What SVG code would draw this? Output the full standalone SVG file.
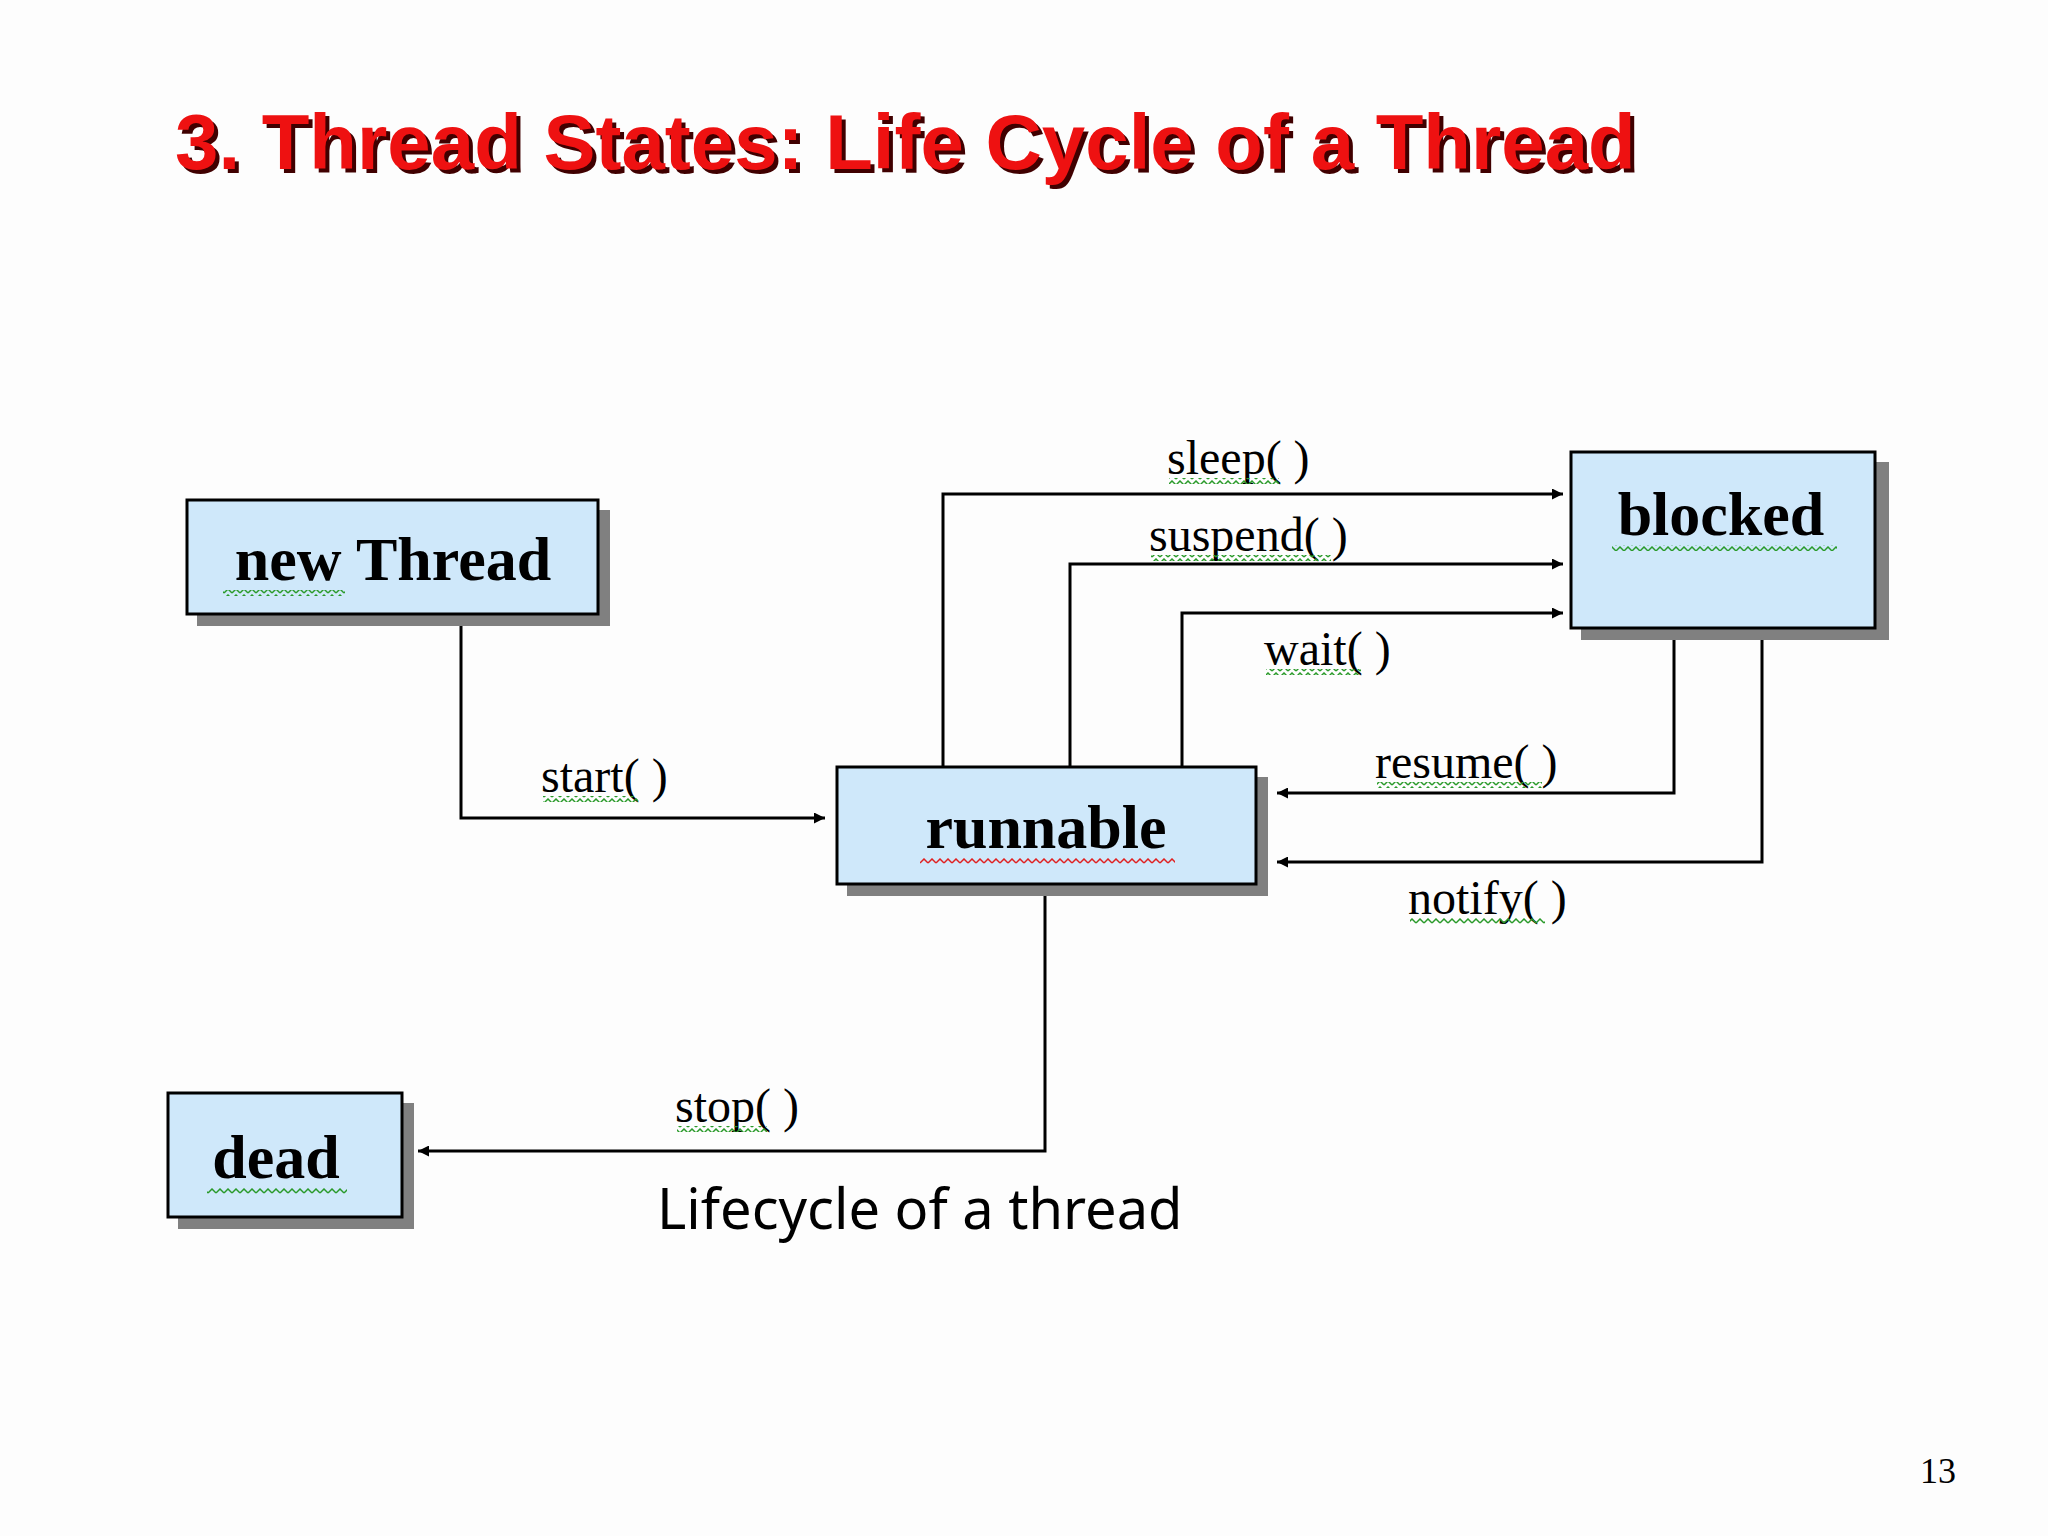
<svg xmlns="http://www.w3.org/2000/svg" width="2048" height="1536" viewBox="0 0 2048 1536">
<style>
.box{fill:#cfe8fa;stroke:#000;stroke-width:3}
.sh{fill:#808080}
.bt{font-family:"Liberation Serif",serif;font-weight:bold;font-size:62px;fill:#000;text-anchor:middle}
.lb{font-family:"Liberation Serif",serif;font-size:48px;fill:#000}
.ln{fill:none;stroke:#000;stroke-width:3}
</style>
<defs>
<marker id="ar" viewBox="0 0 10 10" refX="10" refY="5" markerWidth="11" markerHeight="11" markerUnits="userSpaceOnUse" orient="auto"><path d="M0,0L10,5L0,10z" fill="#000"/></marker>
<pattern id="wg" width="8" height="6" patternUnits="userSpaceOnUse"><path d="M0,5L4,1L8,5" fill="none" stroke="#2a9a2a" stroke-width="1.5"/></pattern>
<pattern id="wr" width="8" height="6" patternUnits="userSpaceOnUse"><path d="M0,5L4,1L8,5" fill="none" stroke="#e02020" stroke-width="1.5"/></pattern>
</defs>
<rect width="2048" height="1536" fill="#fdfdfd"/>
<text x="179" y="173" font-family="Liberation Sans,sans-serif" font-weight="bold" font-size="78" fill="#400000">3. Thread States: Life Cycle of a Thread</text>
<text x="175" y="169" font-family="Liberation Sans,sans-serif" font-weight="bold" font-size="78" fill="#ee1111">3. Thread States: Life Cycle of a Thread</text>

<g id="connectors">
<polyline class="ln" points="461,614 461,818 825,818" marker-end="url(#ar)"/>
<polyline class="ln" points="943,767 943,494 1563,494" marker-end="url(#ar)"/>
<polyline class="ln" points="1070,767 1070,564 1563,564" marker-end="url(#ar)"/>
<polyline class="ln" points="1182,767 1182,613 1563,613" marker-end="url(#ar)"/>
<polyline class="ln" points="1674,628 1674,793 1277,793" marker-end="url(#ar)"/>
<polyline class="ln" points="1762,628 1762,862 1277,862" marker-end="url(#ar)"/>
<polyline class="ln" points="1045,884 1045,1151 418,1151" marker-end="url(#ar)"/>
<text class="lb" x="1167" y="474">sleep( )</text>
<rect x="1169" y="478" width="110" height="6" fill="url(#wg)"/>
<text class="lb" x="1149" y="551">suspend( )</text>
<rect x="1151" y="555" width="180" height="6" fill="url(#wg)"/>
<text class="lb" x="1264" y="665">wait( )</text>
<rect x="1266" y="669" width="95" height="6" fill="url(#wg)"/>
<text class="lb" x="541" y="792">start( )</text>
<rect x="543" y="796" width="95" height="6" fill="url(#wg)"/>
<text class="lb" x="1375" y="778">resume( )</text>
<rect x="1377" y="782" width="165" height="6" fill="url(#wg)"/>
<text class="lb" x="1408" y="914">notify( )</text>
<rect x="1410" y="918" width="135" height="6" fill="url(#wg)"/>
<text class="lb" x="675" y="1122">stop( )</text>
<rect x="677" y="1126" width="90" height="6" fill="url(#wg)"/>
</g>

<g id="new">
<rect class="sh" x="197" y="510" width="413" height="116"/>
<rect class="box" x="187" y="500" width="411" height="114"/>
<text class="bt" x="393" y="580">new Thread</text>
<rect x="223" y="590" width="122" height="6" fill="url(#wg)"/>
</g>
<g id="blocked">
<rect class="sh" x="1581" y="462" width="308" height="178"/>
<rect class="box" x="1571" y="452" width="304" height="176"/>
<text class="bt" x="1721" y="535">blocked</text>
<rect x="1612" y="545" width="225" height="6" fill="url(#wg)"/>
</g>
<g id="runnable">
<rect class="sh" x="847" y="777" width="421" height="119"/>
<rect class="box" x="837" y="767" width="419" height="117"/>
<text class="bt" x="1046" y="848">runnable</text>
<rect x="920" y="858" width="255" height="6" fill="url(#wr)"/>
</g>
<g id="dead">
<rect class="sh" x="178" y="1103" width="236" height="126"/>
<rect class="box" x="168" y="1093" width="234" height="124"/>
<text class="bt" x="276" y="1178">dead</text>
<rect x="207" y="1188" width="140" height="6" fill="url(#wg)"/>
</g>

<text x="657" y="1229" font-family="Noto Sans,sans-serif" font-size="56" fill="#000">Lifecycle of a thread</text>
<text x="1920" y="1483" font-family="Liberation Serif,serif" font-size="36" fill="#000">13</text>
</svg>
